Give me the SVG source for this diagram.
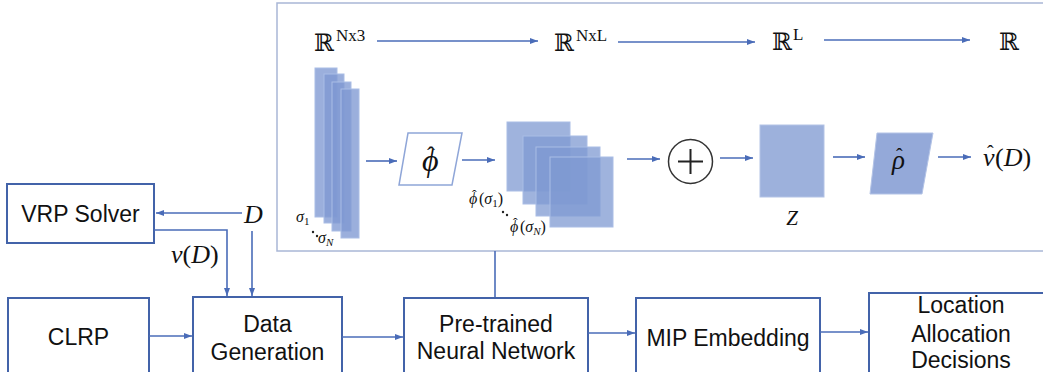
<svg xmlns="http://www.w3.org/2000/svg" width="1043" height="372" viewBox="0 0 1043 372">
<style>
.box{fill:#fff;stroke:#4363a9;stroke-width:2}
.lbl{font-family:"Liberation Sans",Arial,sans-serif;font-size:23px;fill:#111;text-anchor:middle}
.m{font-family:"Liberation Serif","DejaVu Serif",serif;font-style:italic;fill:#111}
.up{font-style:normal}
.r{font-family:"DejaVu Serif","Liberation Serif",serif;fill:#111}
.sup{font-family:"Liberation Serif",serif;fill:#111}
.con{stroke:#4a6cb8;stroke-width:1.6;fill:none}
.bar{fill:#7f99d2;fill-opacity:0.78;stroke:#aabde5;stroke-width:1}
.sq{fill:#7f99d2;fill-opacity:0.75;stroke:#aabde5;stroke-width:1}
</style>
<defs>
<marker id="ah" markerWidth="8" markerHeight="6" refX="8" refY="3" orient="auto" markerUnits="userSpaceOnUse">
<path d="M0,0 L8,3 L0,6 z" fill="#4a6cb8"/>
</marker>
</defs>
<rect width="1043" height="372" fill="#fff"/>
<g id="panel">
<rect x="277" y="3" width="800" height="248" fill="none" stroke="#a9b7d6" stroke-width="1.5"/>
</g>
<g id="dims">
<text class="r" x="314" y="51" font-size="24">ℝ</text><text class="sup" x="336" y="41" font-size="17">Nx3</text>
<text class="r" x="554" y="51" font-size="24">ℝ</text><text class="sup" x="576" y="41" font-size="17">NxL</text>
<text class="r" x="772" y="50" font-size="24">ℝ</text><text class="sup" x="793" y="40" font-size="17">L</text>
<text class="r" x="999" y="50" font-size="24">ℝ</text>
</g>
<g id="inputs">
<rect class="bar" x="315" y="68" width="22" height="149"/>
<rect class="bar" x="324" y="74" width="20" height="149"/>
<rect class="bar" x="332" y="82" width="19" height="149"/>
<rect class="bar" x="341" y="89" width="18" height="149"/>
<text class="m" x="296" y="222" font-size="16">σ<tspan font-size="11" dy="3" class="up">1</tspan></text>
<circle cx="313" cy="232" r="1.2" fill="#222"/><circle cx="317" cy="236" r="1.2" fill="#222"/>
<text class="m" x="318" y="243" font-size="16">σ<tspan font-size="11" dy="3">N</tspan></text>
</g>
<g id="phi">
<polygon points="408,133 462,133 452,185 399,185" fill="#fff" stroke="#8fa6d8" stroke-width="1.5"/>
<text class="m" font-size="32"><tspan x="422" y="171">ϕ</tspan><tspan class="up" x="427" y="163" font-size="24">ˆ</tspan></text>
</g>
<g id="embeddings">
<rect class="sq" x="507" y="122" width="63" height="69"/>
<rect class="sq" x="523" y="136" width="64" height="68"/>
<rect class="sq" x="536" y="147" width="64" height="69"/>
<rect class="sq" x="550" y="157" width="63" height="70"/>
<text class="m" font-size="16"><tspan x="469" y="204">ϕ</tspan><tspan class="up" x="472" y="200" font-size="14">ˆ</tspan><tspan class="up" x="479" y="204">(</tspan><tspan>σ</tspan><tspan font-size="11" dy="3" class="up">1</tspan><tspan dy="-3" class="up">)</tspan></text>
<circle cx="503" cy="212" r="1.2" fill="#222"/><circle cx="507" cy="215" r="1.2" fill="#222"/>
<text class="m" font-size="16"><tspan x="510" y="232">ϕ</tspan><tspan class="up" x="513" y="228" font-size="14">ˆ</tspan><tspan class="up" x="520" y="232">(</tspan><tspan>σ</tspan><tspan font-size="11" dy="3">N</tspan><tspan dy="-3" class="up">)</tspan></text>
</g>
<g id="sum">
<circle cx="690.5" cy="161.5" r="22" fill="#fff" stroke="#333" stroke-width="1.5"/>
<path d="M678,161.5 H703 M690.5,149 V174" stroke="#222" stroke-width="2"/>
</g>
<g id="z">
<rect x="760" y="125" width="64" height="72" fill="#9db1dc" stroke="#b3c3e6" stroke-width="1"/>
<text class="m" x="792" y="225" font-size="21" text-anchor="middle">Z</text>
</g>
<g id="rho">
<polygon points="877,133 933,133 922,194 870,194" fill="#94a9d9" stroke="#b3c3e6" stroke-width="1"/>
<text class="m" font-size="27"><tspan x="892" y="169">ρ</tspan><tspan class="up" x="896" y="163" font-size="20">ˆ</tspan></text>
</g>
<g id="output">
<text class="m" font-size="26"><tspan x="983" y="166">ν</tspan><tspan class="up" x="987" y="160" font-size="20">ˆ</tspan><tspan class="up" x="995" y="166">(</tspan><tspan>D</tspan><tspan class="up">)</tspan></text>
</g>
<g id="vrp">
<rect class="box" x="7" y="184" width="147" height="59"/>
<text class="lbl" x="80.5" y="222">VRP Solver</text>
</g>
<g id="d-label">
<text class="m" x="244" y="223" font-size="26">D</text>
</g>
<g id="nu-label">
<text class="m" x="171" y="263" font-size="26">ν<tspan class="up">(</tspan>D<tspan class="up">)</tspan></text>
</g>
<g id="clrp">
<rect class="box" x="8" y="298" width="141" height="90"/>
<text class="lbl" x="78.5" y="345">CLRP</text>
</g>
<g id="datagen">
<rect class="box" x="193" y="297" width="149" height="90"/>
<text class="lbl" x="267.5" y="332">Data</text>
<text class="lbl" x="267.5" y="360">Generation</text>
</g>
<g id="pretrained">
<rect class="box" x="404" y="298" width="184" height="90"/>
<text class="lbl" x="496" y="332">Pre-trained</text>
<text class="lbl" x="496" y="359">Neural Network</text>
</g>
<g id="mip">
<rect class="box" x="636" y="298" width="184" height="90"/>
<text class="lbl" x="728" y="346">MIP Embedding</text>
</g>
<g id="location">
<rect class="box" x="869" y="293" width="184" height="95"/>
<text class="lbl" x="961" y="313">Location</text>
<text class="lbl" x="961" y="342">Allocation</text>
<text class="lbl" x="961" y="368">Decisions</text>
</g>
<g id="connectors">
<line class="con" x1="377" y1="41" x2="538" y2="41" marker-end="url(#ah)"/>
<line class="con" x1="618" y1="42" x2="755" y2="42" marker-end="url(#ah)"/>
<line class="con" x1="824" y1="40" x2="970" y2="40" marker-end="url(#ah)"/>
<line class="con" x1="366" y1="161" x2="397" y2="161" marker-end="url(#ah)"/>
<line class="con" x1="462" y1="160" x2="495" y2="160" marker-end="url(#ah)"/>
<line class="con" x1="627" y1="159" x2="660" y2="159" marker-end="url(#ah)"/>
<line class="con" x1="720" y1="158" x2="753" y2="158" marker-end="url(#ah)"/>
<line class="con" x1="833" y1="157" x2="865" y2="157" marker-end="url(#ah)"/>
<line class="con" x1="938" y1="157" x2="971" y2="157" marker-end="url(#ah)"/>
<line class="con" x1="242" y1="213" x2="156" y2="213" marker-end="url(#ah)"/>
<polyline class="con" points="154,230 227,230 227,296" marker-end="url(#ah)"/>
<line class="con" x1="252" y1="231" x2="252" y2="296" marker-end="url(#ah)"/>
<line class="con" x1="149" y1="336" x2="192" y2="336" marker-end="url(#ah)"/>
<line class="con" x1="342" y1="337" x2="403" y2="337" marker-end="url(#ah)"/>
<line class="con" x1="588" y1="333" x2="635" y2="333" marker-end="url(#ah)"/>
<line class="con" x1="820" y1="332" x2="868" y2="332" marker-end="url(#ah)"/>
<line class="con" x1="495" y1="251" x2="495" y2="297"/>
</g>
</svg>
